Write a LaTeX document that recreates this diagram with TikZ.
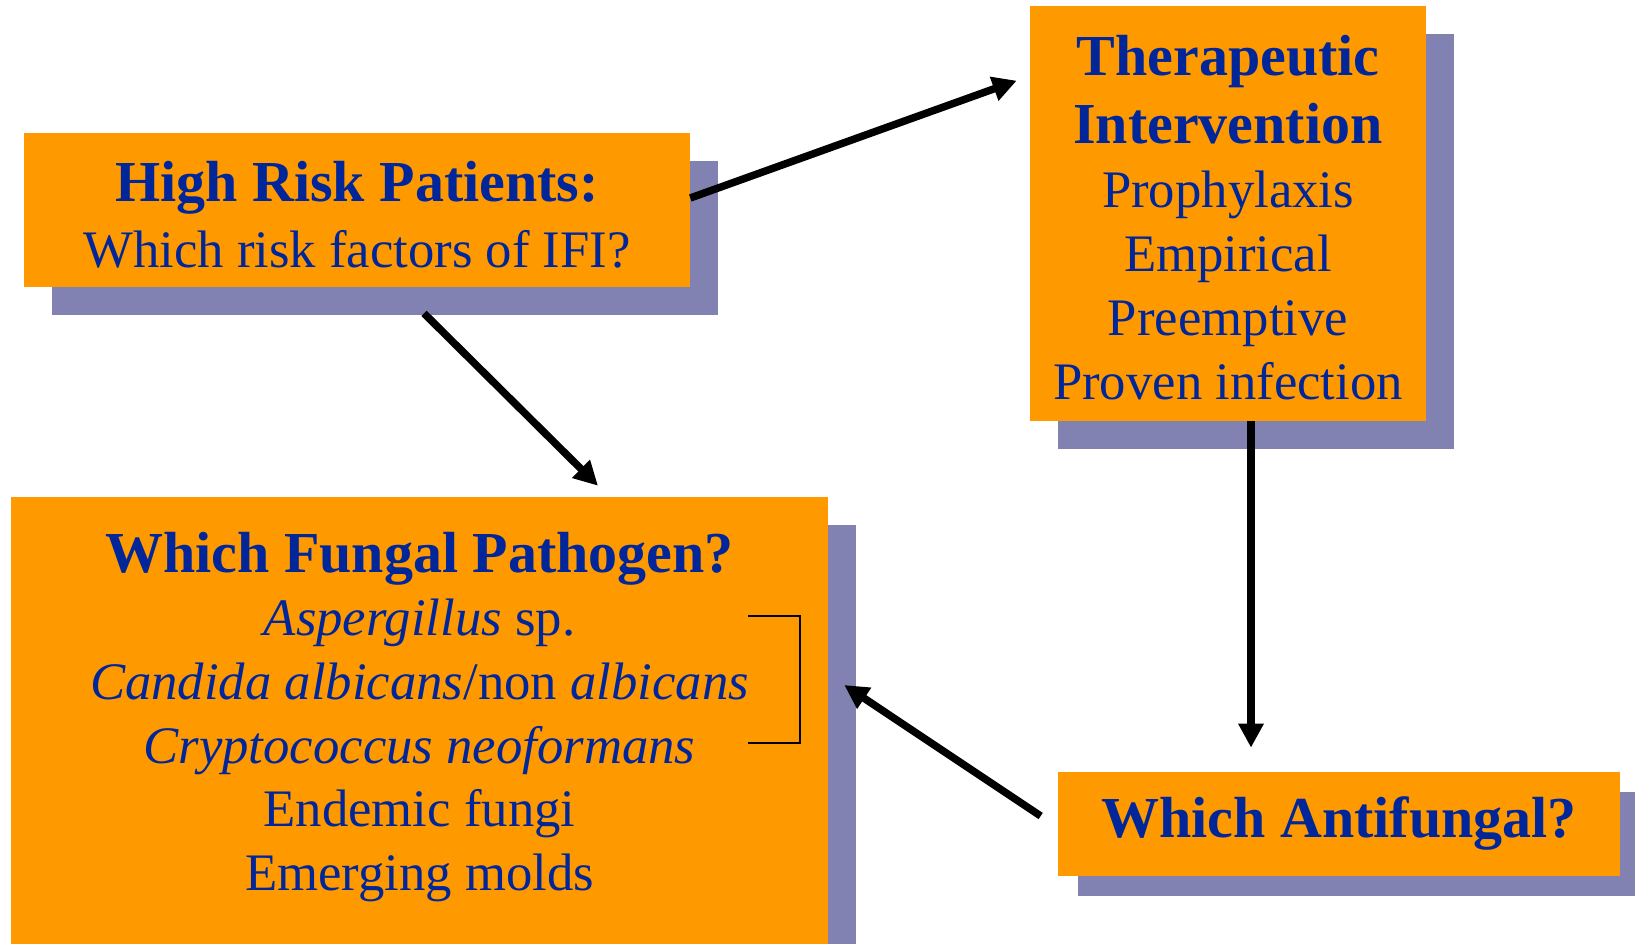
\documentclass[tikz,border=0pt]{standalone}
\usepackage{fontspec}
\setmainfont{Liberation Serif}
\usetikzlibrary{arrows.meta,shadows}
\definecolor{naranja}{RGB}{255,153,0}
\definecolor{azul}{RGB}{0,38,153}
\definecolor{sombra}{RGB}{130,130,178}

\begin{document}
\begin{tikzpicture}[x=0.02cm, y=-0.02cm,
    caja/.style={rectangle, fill=naranja, inner sep=0pt,
      drop shadow={shadow xshift=#1, shadow yshift=-#1, fill=sombra, opacity=1}},
    caja/.default=0.56cm,
    titulo/.style={anchor=base, inner sep=0pt, text=azul, font=\fontsize{33}{40}\selectfont\bfseries},
    linea/.style={anchor=base, inner sep=0pt, text=azul, font=\fontsize{30}{36}\selectfont},
    flecha/.style={line width=0.15cm, -{Triangle[length=0.48cm,width=0.48cm]}}]
  % marco
  \clip (0,0) rectangle (1635,943);
  \fill[white] (0,0) rectangle (1635,943);

  % cajas
  \node[caja, minimum width=13.32cm, minimum height=3.08cm] (riesgo) at (357,210) {};
  \node[caja, minimum width=7.92cm, minimum height=8.3cm] (terapia) at (1228,213.5) {};
  \node[caja, minimum width=16.34cm, minimum height=9.26cm] (patogeno) at (419.5,728.5) {};
  \node[caja=0.4cm, minimum width=11.24cm, minimum height=2.08cm] (antif) at (1339,824) {};

  % corchete
  \draw[line width=1.2pt] (748,616) -- (800,616) -- (800,743) -- (748,743);

  % flechas
  \draw[flecha] ([yshift=0.24cm]riesgo.east) -- ([xshift=-0.26cm,yshift=-1.5cm]terapia.north west);
  \draw[flecha] ([xshift=1.34cm,yshift=-0.52cm]riesgo.south) -- ([xshift=3.57cm,yshift=0.22cm]patogeno.north);
  \coordinate (bajada) at ([xshift=0.46cm]terapia.south);
  \draw[flecha, shorten >=0.48cm] (bajada) -- (bajada |- antif.north);
  \draw[flecha] ([xshift=-0.34cm,yshift=0.16cm]antif.west) -- ([xshift=0.32cm,yshift=0.87cm]patogeno.east);

  % textos
  \node[titulo] (r1) at (357,201) {High Risk Patients:};
  \node[linea] (r2) at (357,267) {Which risk factors of IFI?};

  \node[titulo] (t1) at (1228,75) {Therapeutic};
  \node[titulo] (t2) at (1228,143) {Intervention};
  \foreach \texto [count=\i from 3] in {Prophylaxis, Empirical, Preemptive, Proven infection}
    \node[linea] (t\i) at (1228,{207+64*(\i-3)}) {\texto};

  \node[titulo] (p1) at (419.5,572) {Which Fungal Pathogen?};
  \node[linea] (p2) at (419.5,635) {\textit{Aspergillus} sp.};
  \node[linea] (p3) at (419.5,699) {\textit{Candida albicans}/non \textit{albicans}};
  \node[linea] (p4) at (419.5,763) {\textit{Cryptococcus neoformans}};
  \node[linea] (p5) at (419.5,826) {Endemic fungi};
  \node[linea] (p6) at (419.5,890) {Emerging molds};

  \node[titulo] (a1) at (1339,837) {Which Antifungal?};
\end{tikzpicture}
\end{document}
